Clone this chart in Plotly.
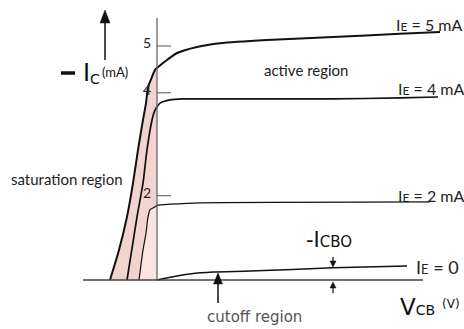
import plotly.graph_objects as go

# ---- data (V_CB in volts, arbitrary scale; -I_C in mA) ----
ie5_v = [-4.7, -3.8, -3.0, -2.4, -1.9, -1.4, -1.1, -0.9, -0.5, -0.2, 0.0, 0.5, 1.0, 2.0, 4.0, 6.3, 11.0, 17.6, 24.3, 28.3]
ie5_i = [0.0, 0.64, 1.35, 2.07, 2.78, 3.42, 3.78, 4.12, 4.34, 4.49, 4.53, 4.62, 4.70, 4.85, 4.98, 5.06, 5.13, 5.19, 5.26, 5.30]

ie4_v = [-3.0, -2.0, -1.4, -1.0, -0.5, -0.2, 0.3, 1.3, 2.6, 6.3, 17.6, 24.3, 28.1]
ie4_i = [0.0, 1.35, 2.07, 2.78, 3.42, 3.63, 3.78, 3.85, 3.87, 3.87, 3.87, 3.89, 3.91]

ie2_v = [-1.8, -1.4, -1.1, -0.9, -0.7, -0.4, 0.1, 1.3, 4.3, 27.3]
ie2_i = [0.0, 0.64, 1.0, 1.35, 1.5, 1.54, 1.60, 1.62, 1.65, 1.67]

ie0_v = [0.0, 1.3, 3.3, 5.6, 9.3, 17.6, 25.0]
ie0_i = [0.0, 0.06, 0.13, 0.17, 0.19, 0.26, 0.30]

tick_vals = [1.8, 4.0, 5.0]
tick_text = ["2", "4", "5"]

W, H = 464, 329
X0, Y0, SX, SY = 157, 280, 10.0, 46.8  # pixel mapping of data axes
xr = [(0 - X0) / SX, (W - X0) / SX]
yr = [(Y0 - H) / SY, (Y0 - 0) / SY]


def P(px, py):
    return px / W, 1 - py / H


def dv(px):
    return (px - X0) / SX


def di(py):
    return (Y0 - py) / SY


fig = go.Figure()

# saturation shading (outer curve to V_CB = 0)
sat_v = [v for v in ie5_v if v <= 0]
sat_i = [i for v, i in zip(ie5_v, ie5_i) if v <= 0]
fig.add_trace(go.Scatter(x=sat_v + [0, sat_v[0]], y=sat_i + [0, 0], fill="toself",
                         fillcolor="#f2d3d0", line=dict(width=0), mode="lines",
                         hoverinfo="skip"))
in_v = [v for v in ie2_v if v <= 0]
in_i = [i for v, i in zip(ie2_v, ie2_i) if v <= 0]
fig.add_trace(go.Scatter(x=in_v + [0, 0, in_v[0]], y=in_i + [ie2_i[len(in_v)], 0, 0], fill="toself",
                         fillcolor="#f7e4e3", line=dict(width=0), mode="lines",
                         hoverinfo="skip"))

# axes
fig.add_shape(type="line", x0=0, x1=0, y0=0, y1=di(18), line=dict(color="#666", width=1.3))
fig.add_shape(type="line", x0=dv(83), x1=dv(423), y0=0, y1=0, line=dict(color="#444", width=1.3))
for tv, tt in zip(tick_vals, tick_text):
    fig.add_shape(type="line", x0=0, x1=dv(171), y0=tv, y1=tv, line=dict(color="#555", width=1))
    fig.add_annotation(x=dv(147), y=tv + 0.08, text=tt, showarrow=False, xanchor="center",
                       yanchor="middle", font=dict(family="Lato", size=14, color="#222"))

# curves
for xs, ys, w in [(ie5_v, ie5_i, 2.0), (ie4_v, ie4_i, 1.7), (ie2_v, ie2_i, 1.2), (ie0_v, ie0_i, 1.5)]:
    fig.add_trace(go.Scatter(x=xs, y=ys, mode="lines", line=dict(color="#111", width=w, shape="spline", smoothing=0.6),
                             hoverinfo="skip"))

cal = "Lato"


def txt(px, py, text, size, color="#222", family=cal, anchor="left"):
    x, y = P(px, py)
    fig.add_annotation(x=x, y=y, xref="paper", yref="paper", text=text, showarrow=False,
                       xanchor=anchor, yanchor="middle", font=dict(family=family, size=size, color=color))


def arrow(px, ptip, ptail, w=1.3, hl=8, hw=3.5):
    """vertical arrow drawn with shapes, pixel coords"""
    d = 1 if ptail > ptip else -1
    base = ptip + d * hl
    xa, ya = P(px, ptail)
    xb, yb = P(px, base)
    fig.add_shape(type="line", xref="paper", yref="paper", x0=xa, y0=ya, x1=xb, y1=yb,
                  line=dict(color="#111", width=w))
    xt, yt = P(px, ptip)
    xl, yl = P(px - hw, base)
    xrr, _ = P(px + hw, base)
    fig.add_shape(type="path", xref="paper", yref="paper",
                  path=f"M {xt} {yt} L {xl} {yl} L {xrr} {yl} Z",
                  fillcolor="#111", line=dict(color="#111", width=0.5))


def ie_label(px, py, rest, size=16, sub=12):
    txt(px, py, 'I<span style="font-size:%dpx">E</span>' % sub + rest, size)


ie_label(394, 25, " = 5 mA")
ie_label(396, 88, " = 4 mA")
ie_label(396, 195, " = 2 mA")
ie_label(414, 267, " = 0", size=18, sub=13)

txt(262, 70, "active region", 15)
txt(9, 179, "saturation region", 15)
txt(255, 317, "cutoff region", 15, color="#555", family="DejaVu Sans", anchor="center")

# -I_C label
x0p, y0p = P(61, 73)
x1p, _ = P(75, 73)
fig.add_shape(type="line", xref="paper", yref="paper", x0=x0p, x1=x1p, y0=y0p, y1=y0p,
              line=dict(color="#111", width=3.5))
txt(81, 73, "I", 24, color="#111", family="DejaVu Sans")
txt(88, 79, "C", 14, color="#111", family="DejaVu Sans")
txt(100, 72, "(mA)", 13, color="#111", family="Lato")
arrow(105, 10, 60, w=1.5, hl=13, hw=5)

# V_CB label
txt(398, 307, 'V<span style="font-size:14px">CB</span>', 23, color="#111", family="DejaVu Sans")
txt(440, 304, "(V)", 12, color="#111", family="DejaVu Sans")

# -I_CBO label and arrows
txt(329, 240, '-I<span style="font-size:15px">CBO</span>', 21, color="#111", family="DejaVu Sans", anchor="center")
arrow(333, 267, 257, w=1.2, hl=6, hw=3)
arrow(333, 282, 293, w=1.2, hl=6, hw=3)
arrow(218, 273, 303, w=1.5, hl=11, hw=4.5)

fig.update_layout(width=W, height=H, margin=dict(l=0, r=0, t=0, b=0),
                  paper_bgcolor="white", plot_bgcolor="white", showlegend=False,
                  xaxis=dict(range=xr, visible=False, fixedrange=True),
                  yaxis=dict(range=yr, visible=False, fixedrange=True))

fig.write_html("out.html")
